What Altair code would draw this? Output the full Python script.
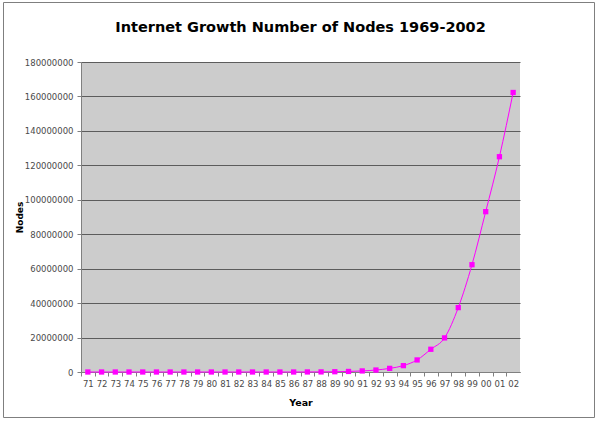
import altair as alt
import pandas as pd

# ---- data ----
years = ["71", "72", "73", "74", "75", "76", "77", "78", "79", "80",
         "81", "82", "83", "84", "85", "86", "87", "88", "89", "90",
         "91", "92", "93", "94", "95", "96", "97", "98", "99", "00",
         "01", "02"]
nodes = [23, 30, 35, 62, 70, 80, 111, 120, 150, 200,
         213, 235, 562, 1024, 1961, 5089, 28174, 56000, 159000, 313000,
         620000, 1140000, 2100000, 3700000, 7000000, 13200000, 19800000, 37400000, 62300000, 93100000,
         125000000, 162300000]
y_ticks = [0, 20000000, 40000000, 60000000, 80000000, 100000000,
           120000000, 140000000, 160000000, 180000000]

df = pd.DataFrame({"year": years, "nodes": nodes})

W, H = 439, 310
step = W / len(years)
FONT = "DejaVu Sans"

x = alt.X(
    "year:O", sort=years, title="Year",
    scale=alt.Scale(type="point", padding=0.5),
    axis=alt.Axis(
        labelAngle=0, tickSize=4, tickOffset=-step / 2, labelOffset=step / 2,
        labelPadding=3, labelFont=FONT, labelFontSize=8.5, labelColor="#4a4a4a",
        tickColor="#808080", domainColor="#808080", grid=False,
        titleFont=FONT, titleFontSize=9.5, titleFontWeight="bold", titleColor="black",
        titleBaseline="alphabetic", titleY=33,
    ),
)
y = alt.Y(
    "nodes:Q", title="Nodes",
    scale=alt.Scale(domain=[0, 180000000], nice=False),
    axis=alt.Axis(
        values=y_ticks, format="d", tickSize=4, labelPadding=4,
        labelFont=FONT, labelFontSize=8.5, labelColor="#4a4a4a",
        tickColor="#808080", domainColor="#808080",
        grid=True, gridColor="#5c5c5c", gridWidth=1,
        titleFont=FONT, titleFontSize=9, titleFontWeight="bold", titleColor="black",
        titleBaseline="alphabetic", titleX=-59, titleY=155, titleAngle=-90,
    ),
)

base = alt.Chart(df)
line = base.mark_line(color="#FF00FF", strokeWidth=1, interpolate="monotone").encode(x=x, y=y)
pts = base.mark_square(size=28, color="#FF00FF", opacity=1).encode(x=x, y=y)

frame = alt.Chart(pd.DataFrame({"a": [0]})).mark_rect(
    fill="transparent", stroke="#7f7f7f", strokeWidth=1
).encode(
    x=alt.value(-77.5), x2=alt.value(513.5),
    y=alt.value(-59.5), y2=alt.value(355.5),
)

chart = alt.layer(line, pts, frame).properties(
    width=W, height=H,
    title=alt.TitleParams(
        text="Internet Growth Number of Nodes 1969-2002",
        font=FONT, fontSize=14.5, fontWeight="bold", color="black",
        anchor="middle", offset=-33,
    ),
    autosize=alt.AutoSizeParams(type="none"),
    padding={"left": 81, "top": 62, "right": 80, "bottom": 50},
    background="white",
).configure_view(fill="#CCCCCC", stroke=None)

chart.save("out.html", embed_options={"renderer": "svg", "actions": False})
